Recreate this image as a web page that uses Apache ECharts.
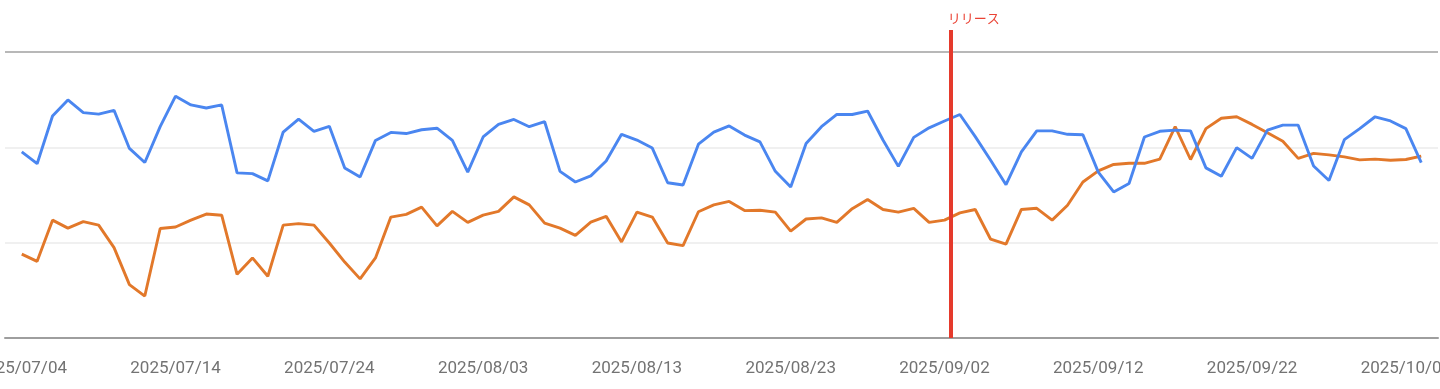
<!DOCTYPE html>
<html>
<head>
<meta charset="utf-8">
<script src="https://cdn.jsdelivr.net/npm/echarts@6/dist/echarts.min.js"></script>
<style>
html,body{margin:0;padding:0;background:#fff;}
#chart{width:1440px;height:389px;}
</style>
</head>
<body>
<div id="chart"></div>
<script>
const dates = [
'2025-07-04','2025-07-05','2025-07-06','2025-07-07','2025-07-08','2025-07-09','2025-07-10','2025-07-11','2025-07-12','2025-07-13',
'2025-07-14','2025-07-15','2025-07-16','2025-07-17','2025-07-18','2025-07-19','2025-07-20','2025-07-21','2025-07-22','2025-07-23',
'2025-07-24','2025-07-25','2025-07-26','2025-07-27','2025-07-28','2025-07-29','2025-07-30','2025-07-31','2025-08-01','2025-08-02',
'2025-08-03','2025-08-04','2025-08-05','2025-08-06','2025-08-07','2025-08-08','2025-08-09','2025-08-10','2025-08-11','2025-08-12',
'2025-08-13','2025-08-14','2025-08-15','2025-08-16','2025-08-17','2025-08-18','2025-08-19','2025-08-20','2025-08-21','2025-08-22',
'2025-08-23','2025-08-24','2025-08-25','2025-08-26','2025-08-27','2025-08-28','2025-08-29','2025-08-30','2025-08-31','2025-09-01',
'2025-09-02','2025-09-03','2025-09-04','2025-09-05','2025-09-06','2025-09-07','2025-09-08','2025-09-09','2025-09-10','2025-09-11',
'2025-09-12','2025-09-13','2025-09-14','2025-09-15','2025-09-16','2025-09-17','2025-09-18','2025-09-19','2025-09-20','2025-09-21',
'2025-09-22','2025-09-23','2025-09-24','2025-09-25','2025-09-26','2025-09-27','2025-09-28','2025-09-29','2025-09-30','2025-10-01',
'2025-10-02','2025-10-03'
];
const blueValues = [
48.8,45.7,58.2,62.4,59.1,58.7,59.7,49.7,46.0,55.4,
63.4,61.1,60.3,61.1,43.3,43.1,41.2,54.0,57.4,54.2,
55.5,44.6,42.2,51.8,53.9,53.6,54.6,55.0,51.8,43.5,
52.7,56.0,57.3,55.4,56.7,43.7,40.9,42.5,46.4,53.4,
51.9,49.8,40.7,40.1,50.8,54.0,55.6,53.2,51.4,43.7,
39.6,51.0,55.4,58.6,58.6,59.5,51.9,45.0,52.6,55.1,
56.9,58.6,52.8,46.6,40.2,48.8,54.3,54.3,53.4,53.3,
43.5,38.3,40.5,52.7,54.2,54.5,54.3,44.6,42.4,49.9,
47.1,54.5,55.8,55.8,45.1,41.3,52.0,54.9,58.0,56.9,
54.9,46.0
];
const orangeValues = [
22.0,20.1,30.9,28.8,30.5,29.6,23.7,14.0,11.0,28.7,
29.1,30.9,32.5,32.2,16.7,21.0,16.2,29.6,30.0,29.6,
24.9,19.9,15.5,21.0,31.7,32.4,34.3,29.4,33.2,30.3,
32.2,33.2,37.0,34.9,30.1,28.8,26.9,30.4,31.9,25.2,
33.0,31.7,24.9,24.2,33.1,34.9,35.8,33.4,33.5,33.0,
28.0,31.2,31.5,30.3,33.9,36.3,33.7,33.0,34.0,30.3,
30.9,32.8,33.7,25.9,24.6,33.7,34.0,30.9,34.8,40.9,
43.8,45.5,45.8,45.8,46.9,55.4,46.8,54.9,57.6,58.0,
56.0,53.8,51.6,47.1,48.4,48.0,47.5,46.7,46.9,46.6,
46.8,47.7
];
const tickLabels = ['2025/07/04','2025/07/14','2025/07/24','2025/08/03','2025/08/13','2025/08/23','2025/09/02','2025/09/12','2025/09/22','2025/10/02'];
const releaseTime = '2025-09-02 09:30';
const releaseLabel = 'リリース';

function ts(s){
  const m = s.match(/(\d{4})[-\/](\d{2})[-\/](\d{2})(?:[ T](\d{2}):(\d{2}))?/);
  return Date.UTC(+m[1], +m[2]-1, +m[3], m[4]?+m[4]:0, m[5]?+m[5]:0);
}
const DAY = 86400000;
const t0 = ts(dates[0]);
const dayIndex = s => (ts(s) - t0) / DAY;
const tickIdx = tickLabels.map(dayIndex);
const releaseIdx = dayIndex(releaseTime);

const blueData = dates.map((d,i)=>[dayIndex(d), blueValues[i]]);
const orangeData = dates.map((d,i)=>[dayIndex(d), orangeValues[i]]);

const chart = echarts.init(document.getElementById('chart'), null, {renderer:'canvas'});
chart.setOption({
  animation:false,
  backgroundColor:'#ffffff',
  grid:{left:5,right:2,top:30,bottom:51,containLabel:false,outerBoundsMode:'none'},
  xAxis:{
    type:'value',
    min:-1.09,max:dates.length-1+1.09,
    axisLine:{show:true,lineStyle:{color:'#9e9e9e',width:2}},
    axisTick:{show:false},
    splitLine:{show:false},
    axisLabel:{
      customValues: tickIdx,
      formatter:function(v){
        const k = tickIdx.findIndex(t=>Math.abs(t-v)<1e-6);
        return k>=0 ? tickLabels[k] : '';
      },
      color:'#737373',fontFamily:'Roboto',fontSize:17,margin:22,
      showMinLabel:true,showMaxLabel:true,hideOverlap:false
    }
  },
  yAxis:{
    type:'value',min:0,max:80.75,interval:25,
    axisLine:{show:false},axisTick:{show:false},axisLabel:{show:false},
    splitLine:{show:true,showMaxLine:false,lineStyle:{color:['#9e9e9e','#ebebeb','#ebebeb','#a0a0a0'],width:1.5}}
  },
  series:[
    {
      type:'line',data:blueData,symbol:'none',
      lineStyle:{color:'#4a86f0',width:2.9},itemStyle:{color:'#4a86f0'},z:3
    },
    {
      type:'line',data:orangeData,symbol:'none',
      lineStyle:{color:'#e2782a',width:2.9},itemStyle:{color:'#e2782a'},z:2,
      markLine:{
        silent:true,symbol:'none',animation:false,
        lineStyle:{color:'#e53a2c',width:4,type:'solid'},
        label:{show:true,position:'end',formatter:releaseLabel,color:'#ea4335',fontSize:13,
          fontFamily:'Noto Sans CJK JP',align:'left',offset:[-3,0],distance:5},
        data:[{xAxis:releaseIdx}]
      }
    }
  ]
});
</script>
</body>
</html>
